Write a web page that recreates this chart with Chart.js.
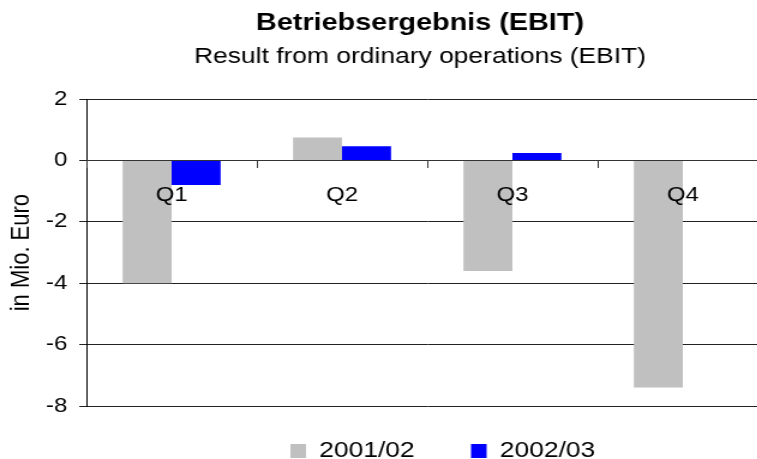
<!DOCTYPE html>
<html>
<head>
<meta charset="utf-8">
<script src="https://cdn.jsdelivr.net/npm/chart.js@4"></script>
<style>
  html, body { margin: 0; padding: 0; background: #fff; overflow: hidden; }
  #wrap { width: 640px; height: 459px; transform: scaleX(1.2); transform-origin: 0 0; }
</style>
</head>
<body>
<div id="wrap"><canvas id="ebitChart" width="640" height="459"></canvas></div>
<script>
var quarters = ['Q1', 'Q2', 'Q3', 'Q4'];
var seriesNames = ['2001/02', '2002/03'];
var ebit0102 = [-4.0, 0.75, -3.6, -7.4];
var ebit0203 = [-0.8, 0.47, 0.25, 0];
var yMin = -8, yMax = 2, yStep = 2;

var font = 'Liberation Sans, Arial, sans-serif';

// the source picture is stretched sideways, so boxes get nudged after layout
var nudgeBoxes = {
	id: 'nudgeBoxes',
	afterLayout: function(chart) {
		chart.boxes.forEach(function(b) {
			if (b.position === 'top' && !b.axis) {
				b.left += 30; b.right += 30;
			}
		});
		var lg = chart.legend;
		lg.left += 49; lg.right += 49;
		lg.top -= 13; lg.bottom -= 13;
	}
};

var ctx = document.getElementById('ebitChart');

var chart = new Chart(ctx, {
	type: 'bar',
	data: {
		labels: quarters,
		datasets: [
			{
				label: seriesNames[0],
				backgroundColor: '#c0c0c0',
				data: ebit0102
			},
			{
				label: seriesNames[1],
				backgroundColor: '#0000ff',
				data: ebit0203
			}
		]
	},
	options: {
		responsive: false,
		animation: false,
		categoryPercentage: 0.575,
		barPercentage: 1.0,
		layout: { padding: { left: 0, right: 0, top: 0, bottom: -26 } },
		plugins: {
			tooltip: { enabled: false },
			title: {
				display: true,
				text: 'Betriebsergebnis (EBIT)',
				color: '#000',
				font: { family: font, size: 24, weight: 'bold' },
				padding: { top: 9, bottom: 0 }
			},
			subtitle: {
				display: true,
				text: 'Result from ordinary operations (EBIT)',
				color: '#000',
				font: { family: font, size: 22 },
				padding: { top: 6, bottom: 29 }
			},
			legend: {
				position: 'bottom',
				labels: {
					color: '#000',
					font: { family: font, size: 22 },
					boxWidth: 13,
					boxHeight: 14,
					padding: 47
				}
			}
		},
		scales: {
			x: {
				position: { y: 0 },
				grid: {
					display: true,
					drawOnChartArea: false,
					drawTicks: true,
					tickLength: 7,
					offset: true,
					color: '#333',
					z: 1
				},
				border: { display: true, color: '#333', z: 1 },
				ticks: {
					color: '#000',
					font: { family: font, size: 20 },
					padding: 16,
					maxRotation: 0,
					z: 2
				}
			},
			y: {
				min: yMin,
				max: yMax,
				afterFit: function(scale) { scale.width = 72; },
				ticks: {
					stepSize: yStep,
					color: '#000',
					font: { family: font, size: 20 },
					padding: 10
				},
				grid: {
					color: '#222',
					tickLength: 6
				},
				border: { display: true, color: '#000' },
				title: {
					display: true,
					text: 'in Mio. Euro',
					color: '#000',
					font: { family: font, size: 22 },
					padding: { top: 5, bottom: 0 }
				}
			}
		}
	},
	plugins: [nudgeBoxes]
});
</script>
</body>
</html>
